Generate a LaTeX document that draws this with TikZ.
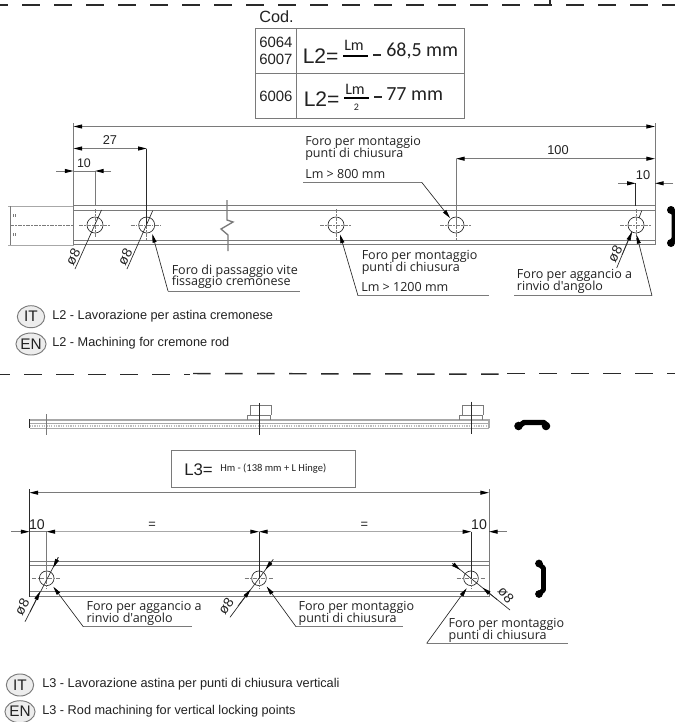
\documentclass[tikz,border=0pt]{standalone}
\usepackage{fontspec}
\setmainfont{Liberation Sans}
\newfontfamily\opsans{Open Sans}
\newfontfamily\calib{Carlito}
\usetikzlibrary{arrows.meta,shapes.geometric}
\newcommand\tightlines{\lineskiplimit -6pt\relax}
\definecolor{ln}{HTML}{7A7A7A}
\definecolor{dk}{HTML}{2A2A2A}
\definecolor{lg}{HTML}{A8A8A8}
\definecolor{tx}{HTML}{222222}
\tikzset{
 dashrule/.style={draw=dk,line width=1.1pt,dash pattern=on 13.2pt off 10.8pt},
 rail/.style={draw=ln,line width=.75pt},
 ext/.style={draw=dk,line width=.55pt},
 extg/.style={draw=ln,line width=.7pt},
 dim/.style={draw=ln,line width=.7pt},
 tip/.style={-{Stealth[length=6.5pt,width=3pt,inset=0pt,color=black]}},
 tipboth/.style={{Stealth[length=6.5pt,width=3pt,inset=0pt,color=black]}-{Stealth[length=6.5pt,width=3pt,inset=0pt,color=black]}},
 lead/.style={draw=dk,line width=.5pt},
 under/.style={draw=ln,line width=.7pt},
 cent/.style={draw=ln,line width=.45pt,dash pattern=on 3pt off 1pt on 1pt off 1pt},
 holea/.style={circle,draw=dk,line width=.5pt,minimum size=12pt,inner sep=0pt},
 holeb/.style={circle,draw=dk,line width=.5pt,minimum size=11pt,inner sep=0pt},
 lab/.style={inner sep=0pt,anchor=west,text=tx},
 callout/.style={lab,font=\opsans\fontsize{9.4pt}{8.9pt}\selectfont\tightlines,align=left},
 dimtxt/.style={inner sep=0pt,text=tx,font=\fontsize{9.6pt}{10pt}\selectfont},
 dia/.style={inner sep=0pt,text=tx,font=\fontsize{10.4pt}{10pt}\selectfont},
 lang/.style={ellipse,draw=ln,fill=black!7,line width=.7pt,minimum width=20.5pt,minimum height=16.5pt,inner sep=0pt,text=tx,font=\fontsize{11.5pt}{12pt}\selectfont},
 desc/.style={lab,font=\fontsize{9.55pt}{10pt}\selectfont},
 boxln/.style={draw=ln,line width=.75pt},
 prof/.style={draw=black,line width=3.4pt,line cap=round,line join=round},
}
\begin{document}
\begin{tikzpicture}[x=.75pt,y=-.75pt]
\useasboundingbox[fill=white] (0,0) rectangle (675,722);
% dashed separators
\draw[dashrule] (-10,5) -- (675,5);
\draw[ext,line width=.8pt] (550,0) -- (550,5);
\draw[dashrule] (-8,374.5) -- (190,374.5);
\draw[dashrule] (193,373.5) -- (500,374.2);
\draw[dashrule] (507,373.3) -- (675,373.3);
% code table
\node[lab,font=\fontsize{12.2pt}{13pt}\selectfont] (cod) at (259,17) {Cod.};
\draw[boxln] (255,28) rectangle (464.7,118);
\draw[boxln] (255,73) -- (464.7,73);
\draw[boxln] (296,28) -- (296,118);
\node[lab,font=\fontsize{11.2pt}{12.7pt}\selectfont,align=left] (c1) at (259,50.5) {6064\\6007};
\node[lab,font=\fontsize{11.2pt}{12pt}\selectfont] (c2) at (259,96) {6006};
\node[lab,font=\fontsize{15.8pt}{16pt}\selectfont] (f1) at (302.5,56) {L2=};
\node[lab,font=\fontsize{15.8pt}{16pt}\selectfont] (f2) at (303.5,99) {L2=};
\node[lab,font=\calib\fontsize{12pt}{12pt}\selectfont] (lm1) at (344,45.5) {Lm};
\node[lab,font=\calib\fontsize{12pt}{12pt}\selectfont] (lm2) at (345,89) {Lm};
\draw[draw=black,line width=.9pt] (343,56) -- (368,56);
\draw[draw=black,line width=.9pt] (344,98) -- (369,98);
\node[lab,font=\calib\fontsize{7.5pt}{8pt}\selectfont] (two) at (353.5,107) {2};
\draw[draw=dk,line width=.9pt] (373,55) -- (381,55);
\draw[draw=dk,line width=.9pt] (374,97) -- (382,97);
\node[lab,font=\calib\fontsize{15pt}{16pt}\selectfont] (r1) at (386,51) {68,5 mm};
\node[lab,font=\calib\fontsize{15pt}{16pt}\selectfont] (r2) at (386,94) {77 mm};
% ---------- L2 rail
\draw[draw=lg,line width=.6pt] (8,206) -- (73.5,206) (8,245) -- (73.5,245);
\draw[draw=ln,line width=.5pt] (10,206) -- (10,245);
\draw[cent] (10,225) -- (73.5,225);
\draw[draw=ln,line width=.5pt] (13.5,214) -- (13.5,217) (15,214) -- (15,217) (13.5,233) -- (13.5,236) (15,233) -- (15,236);
\draw[rail] (73.5,205.7) -- (655,205.7) (73.5,210.7) -- (655,210.7) (73.5,240) -- (655,240) (73.5,244.7) -- (655,244.7);
\draw[draw=ln,line width=1pt] (227,200) -- (227,220) -- (233,222) -- (221,229) -- (228,235) -- (228,251);
% holes
\node[holea] (a1) at (95,225) {};
\node[holea] (a2) at (146.7,225) {};
\node[holea] (a3) at (336,225) {};
\node[holea] (a4) at (456,225) {};
\node[holea] (a5) at (636,225) {};
\foreach \n/\cx in {a2/146.7,a3/336,a4/456,a5/636}{
  \draw[cent] (\cx-16,225) -- (\cx+16,225);
  \draw[cent] (\cx,209) -- (\cx,241);
}
\draw[cent] (79,225) -- (111,225);
\draw[cent] (95,209) -- (95,237);
% L2 extension lines
\draw[extg] (73.5,123) -- (73.5,245);
\draw[extg] (655,123) -- (655,244.7);
\draw[extg] (95,171) -- (95,205.7);
\draw[ext] (146.7,148.5) -- (146.7,225);
\draw[extg] (456,158.7) -- (456,225);
\draw[ext] (635.7,183) -- (635.7,205.7);
% L2 dimensions
\draw[dim,tipboth] (73.5,126.5) -- (655,126.5);
\draw[dim,tipboth] (73.5,148.5) -- (146.7,148.5);
\draw[dim,tipboth] (456,158.7) -- (655,158.7);
\draw[dim,tip] (56,171) -- (73.5,171);
\draw[dim,tip] (111,171) -- (95,171);
\draw[dim] (73.5,171) -- (95,171);
\draw[dim,tip] (618,183.3) -- (635.7,183.3);
\draw[dim,tip] (673,183.3) -- (655,183.3);
\node[dimtxt] (d27) at (110,140) {27};
\node[dimtxt,font=\fontsize{9.3pt}{10pt}\selectfont] (d10a) at (84,163) {10};
\node[dimtxt] (d100) at (558,150) {100};
\node[dimtxt] (d10b) at (643,175) {10};
% L2 diameter leaders
\draw[lead] (101.5,210) -- (75,269);
\draw[lead] (152.7,210.7) -- (127,269);
\draw[lead] (641.7,210.7) -- (639,218);
\draw[lead] (631.7,231.7) -- (616.7,268);
\draw[lead,tip] (622,255) -- (632,232);
\node[dia,rotate=62] (o1) at (73,257) {ø8};
\node[dia,rotate=62] (o2) at (125,257) {ø8};
\node[dia,rotate=62] (o3) at (615,254) {ø8};
% L2 callouts
\coordinate (t1) at (450,218);
\coordinate (t2) at (152.3,234);
\coordinate (t3) at (340,234.5);
\coordinate (t4) at (636.7,235);
\draw[under] (303,182.3) -- (421.7,182.3);
\draw[lead,tip] (421.7,182.3) -- (t1);
\node[callout] (k1) at (305,148) {Foro per montaggio\\punti di chiusura};
\node[callout] (k1b) at (305,174) {Lm > 800 mm};
\draw[under] (168,291) -- (300,291);
\draw[lead,tip] (168,291) -- (t2);
\node[callout] (k2) at (171.5,276.7) {Foro di passaggio vite\\fissaggio cremonese};
\draw[under] (358,295.7) -- (489,295.7);
\draw[lead,tip] (358,295.7) -- (t3);
\node[callout] (k3) at (361.5,262.7) {Foro per montaggio\\punti di chiusura};
\node[callout] (k3b) at (361,287.5) {Lm > 1200 mm};
\draw[under] (514.3,295.7) -- (652,295.7);
\draw[lead,tip] (652,295.7) -- (t4);
\node[callout] (k4) at (516.7,281.7) {Foro per aggancio a\\rinvio d'angolo};
% L2 section
\draw[prof,line width=3.6pt] (671.5,210) -- (674,214) -- (674,238) -- (671.5,243);
\fill[black] (671,210) circle (3pt) (671,243) circle (3pt);
% L2 legend
\node[lang] (it1) at (31,316.7) {IT};
\node[lang] (en1) at (31,344) {EN};
\node[desc] (dit1) at (52,316.7) {L2 - Lavorazione per astina cremonese};
\node[desc] (den1) at (52,343.5) {L2 - Machining for cremone rod};
% ---------- L3 top view
\draw[draw=lg,line width=1.3pt] (29.5,420) -- (489,420);
\draw[draw=lg,line width=.8pt] (29.5,423.8) -- (489,423.8);
\draw[draw=black!25,line width=1.6pt,dash pattern=on 1pt off .8pt] (29.5,426) -- (489,426);
\draw[draw=lg,line width=1.1pt] (29.5,428.3) -- (489,428.3);
\draw[draw=dk,line width=.5pt] (29.5,419.3) -- (29.5,428.3);
\draw[draw=lg,line width=.8pt] (489,419.3) -- (489,428.3);
\draw[draw=ln,line width=.6pt] (250.3,415) |- (271.7,405.7) -- (271.7,415);
\draw[draw=ln,line width=.6pt] (247.5,420) |- (270.7,415) -- (270.7,420);
\draw[draw=ln,line width=.6pt] (462.3,415) |- (483.7,405.7) -- (483.7,415);
\draw[draw=ln,line width=.6pt] (459.3,420) |- (482.7,415) -- (482.7,420);
\draw[draw=ln,line width=.6pt] (46.5,414) -- (46.5,435);
\draw[draw=dk,line width=.6pt] (259,403) -- (259,435);
\draw[draw=dk,line width=.6pt] (471.3,401.7) -- (471.3,433.5);
\draw[prof,line width=4pt] (519,426) -- (524,422.5) -- (544,422.5) -- (547,426);
\fill[black] (518.5,426) circle (3.2pt) (546,426) circle (3.2pt);
% L3 box
\draw[boxln] (171.7,450.7) rectangle (355.7,487.3);
\node[lab,font=\fontsize{12.6pt}{13pt}\selectfont] (l3) at (184,470) {L3=};
\node[lab,font=\calib\fontsize{7.9pt}{8pt}\selectfont] (l3f) at (220,469) {Hm - (138 mm + L Hinge)};
% L3 rail
\draw[rail] (29.5,561.7) -- (489,561.7) (29.5,565.7) -- (489,565.7) (29.5,591.7) -- (489,591.7) (29.5,596) -- (489,596);
\node[holeb] (b1) at (46.7,578.3) {};
\node[holeb] (b2) at (259,578.3) {};
\node[holeb] (b3) at (471,578.3) {};
\foreach \n/\cx in {b1/46.7,b2/259,b3/471}{
  \draw[cent] (\cx-14.5,578.3) -- (\cx+14.5,578.3);
  \draw[cent] (\cx,564) -- (\cx,589);
}
% L3 extension lines
\draw[ext] (29.5,489) -- (29.5,597);
\draw[extg] (489,489) -- (489,597);
\draw[extg] (46.5,531.7) -- (46.5,578);
\draw[ext] (259,531.7) -- (259,578);
\draw[ext] (471.3,531.7) -- (471.3,578);
% L3 dimensions
\draw[extg,tipboth] (29.5,492.7) -- (489,492.7);
\draw[dim,tip] (11,531.7) -- (29.5,531.7);
\draw[dim] (29.5,531.7) -- (46.5,531.7);
\draw[extg,draw=lg,tipboth] (46.5,531.7) -- (259,531.7);
\draw[extg,draw=lg,tipboth] (259,531.7) -- (471.3,531.7);
\draw[dim,tip] (506.7,531.7) -- (489,531.7);
\node[dimtxt,font=\fontsize{10.6pt}{11pt}\selectfont] (e10a) at (37,525) {10};
\node[dimtxt,font=\fontsize{10.6pt}{11pt}\selectfont] (e10b) at (479,525) {10};
\node[dimtxt] (eq1) at (152,525) {=};
\node[dimtxt] (eq2) at (364.3,525) {=};
% L3 diameter leaders
\draw[lead] (58.3,557.3) -- (25,621.7);
\draw[lead,tip] (58.3,557.3) -- (53.3,567.5);
\draw[lead,tip] (30,612) -- (40,591.5);
\draw[lead] (273.3,559.3) -- (230,617.3);
\draw[lead,tip] (272,561) -- (265.5,569.5);
\draw[lead,tip] (238,606) -- (250.5,589.5);
\draw[lead] (452.3,563.3) -- (510,610);
\draw[lead,tip] (453,564) -- (460,569.8);
\draw[lead,tip] (497,599.5) -- (482.5,587.7);
\node[dia,rotate=62] (o4) at (22,607) {ø8};
\node[dia,rotate=55] (o5) at (226,606) {ø8};
\node[dia,rotate=-50] (o6) at (506,595) {ø8};
% L3 callouts
\coordinate (u1) at (53.3,586.7);
\coordinate (u2) at (266.7,586.5);
\coordinate (u3) at (466.7,588.3);
\draw[under] (83.3,626.7) -- (192,626.7);
\draw[lead,tip] (83.3,626.7) -- (u1);
\node[callout] (m1) at (86.3,613.7) {Foro per aggancio a\\rinvio d'angolo};
\draw[under] (296,626.7) -- (403.3,626.7);
\draw[lead,tip] (296,626.7) -- (u2);
\node[callout] (m2) at (298.3,613) {Foro per montaggio\\punti di chiusura};
\draw[under] (426.7,643.3) -- (567.7,643.3);
\draw[lead,tip] (426.7,643.3) -- (u3);
\node[callout] (m3) at (448.3,630.2) {Foro per montaggio\\punti di chiusura};
% L3 section
\draw[prof,line width=3.6pt] (539,564) -- (543.5,568) -- (543.5,590) -- (539,594);
\fill[black] (539,563.5) circle (2.9pt) (539,594) circle (2.9pt);
% L3 legend
\node[lang] (it2) at (20,685) {IT};
\node[lang] (en2) at (20,711.7) {EN};
\node[desc] (dit2) at (42,684.5) {L3 - Lavorazione astina per punti di chiusura verticali};
\node[desc] (den2) at (42,711) {L3 - Rod machining for vertical locking points};
\end{tikzpicture}
\end{document}
